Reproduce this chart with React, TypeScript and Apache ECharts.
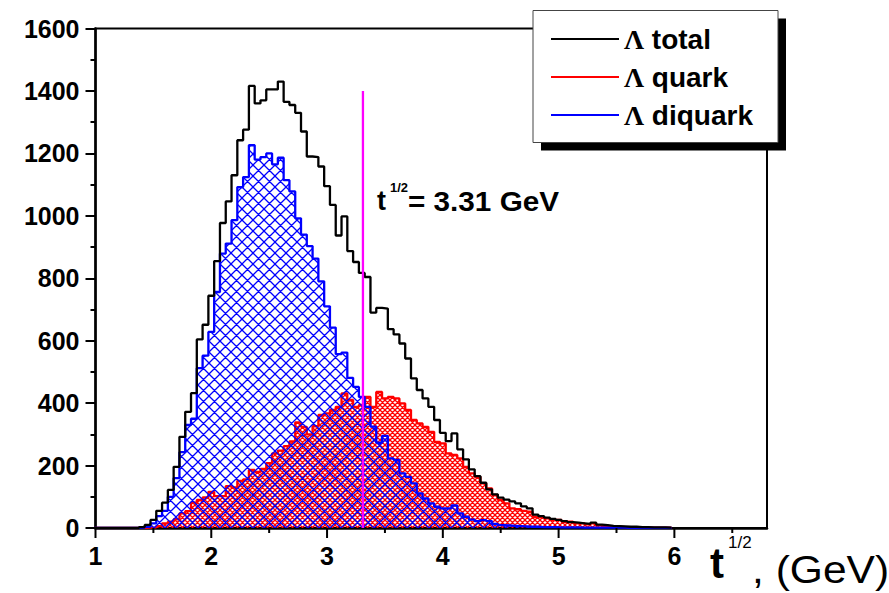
import React, { useEffect, useRef } from 'react';
import * as echarts from 'echarts';

// Histogram binning (bins centred on multiples of 0.05 GeV)
const BIN_WIDTH = 0.05;
const FIRST_BIN_CENTER = 1.0;

// Bin contents, bins centred at 1.00, 1.05, ... 5.95
const totalCounts = [
  0, 0, 0, 0, 0, 0, 0, 0,
  3, 10, 26, 55, 81, 122, 196, 292, 372, 432,
  604, 651, 744, 855, 977, 1046, 1130, 1242, 1276, 1416,
  1360, 1370, 1405, 1405, 1430, 1365, 1355, 1330, 1270, 1190,
  1188, 1158, 1095, 1035, 937, 998, 887, 852, 817, 804,
  690, 705, 703, 637, 620, 591, 543, 479, 442, 415,
  388, 346, 305, 278, 303, 252, 220, 188, 166, 145,
  124, 108, 97, 91, 85, 79, 69, 63, 43, 38,
  33, 29, 26, 22, 19, 17, 15, 13, 17, 11,
  9, 7, 6, 5, 4, 4, 3, 3, 2, 2,
  2, 1,
];
const quarkCounts = [
  0, 0, 0, 0, 0, 0, 0, 0,
  0, 1, 2, 6, 15, 20, 28, 47, 54, 81,
  90, 98, 116, 102, 102, 134, 130, 151, 156, 186,
  180, 189, 208, 239, 248, 262, 277, 338, 324, 300,
  326, 362, 367, 378, 388, 431, 410, 388, 394, 420,
  388, 436, 415, 420, 415, 399, 378, 346, 335, 324,
  308, 276, 271, 239, 234, 223, 196, 175, 164, 143,
  127, 106, 90, 79, 63, 60, 55, 52, 36, 34,
  31, 26, 26, 20, 20, 15, 15, 12, 15, 9,
  6, 5, 4, 3, 3, 2, 2, 2, 1, 1,
  1, 1,
];
const diquarkCounts = [
  0, 0, 0, 0, 0, 0, 0, 0,
  1, 4, 15, 38, 55, 100, 160, 243, 330, 350,
  512, 552, 628, 756, 879, 911, 986, 1092, 1124, 1226,
  1180, 1188, 1200, 1165, 1186, 1114, 1078, 992, 940, 903,
  863, 790, 710, 642, 557, 562, 481, 452, 420, 388,
  325, 273, 295, 223, 218, 175, 164, 143, 111, 95,
  79, 68, 63, 63, 72, 47, 36, 27, 22, 25,
  22, 13, 9, 8, 7, 6, 5, 4, 4, 3,
  3, 3, 2, 2, 2, 2, 1, 1, 1, 1,
  1, 1, 1, 1, 0, 0, 0, 0, 0, 0,
  0, 0,
];

const seriesNames = ['Λ total', 'Λ quark', 'Λ diquark'];
const xMajorTicks = [1, 2, 3, 4, 5, 6];
const xMinorTicks = [1.5, 2.5, 3.5, 4.5, 5.5, 6.5];
const markerT = 3.31;
const markerTop = 1400;

function stepData(counts: number[]) {
  const start = FIRST_BIN_CENTER - BIN_WIDTH / 2;
  const pts = counts.map((c, i) => [+(start + i * BIN_WIDTH).toFixed(4), c]);
  pts.push([+(start + counts.length * BIN_WIDTH).toFixed(4), 0]);
  return pts;
}

function hatch(color: string, size: number, lw: number) {
  const c = document.createElement('canvas');
  c.width = size;
  c.height = size;
  const ctx = c.getContext('2d')!;
  ctx.strokeStyle = color;
  ctx.lineWidth = lw;
  ctx.beginPath();
  for (const o of [-size, 0, size]) {
    ctx.moveTo(o, 0);
    ctx.lineTo(o + size, size);
    ctx.moveTo(o, size);
    ctx.lineTo(o + size, 0);
  }
  ctx.stroke();
  return c;
}

function tickSeries(values: number[], len: number) {
  return {
    type: 'custom',
    silent: true,
    clip: false,
    z: 6,
    data: values.map((v) => [v, 0]),
    renderItem: (_p: any, api: any) => {
      const p = api.coord([api.value(0), 0]);
      return {
        type: 'line',
        shape: { x1: p[0], y1: p[1], x2: p[0], y2: p[1] + len },
        style: { stroke: '#000', lineWidth: 2 },
      };
    },
  };
}

export default function App() {
  const ref = useRef<HTMLDivElement>(null);
  useEffect(() => {
    if (!ref.current) return;
    const chart = echarts.init(ref.current, undefined, { renderer: 'svg' });
    const blueSize = 11;
    const redSize = 5;
    const blueHatch = hatch('#0000ff', blueSize, 1.3);
    const redHatch = hatch('#ff0000', redSize, 1.3);
    const font = 'Liberation Sans';
    chart.setOption({
      animation: false,
      backgroundColor: '#fff',
      textStyle: { fontFamily: font },
      grid: {
        left: 95.5,
        right: 122,
        top: 28.5,
        bottom: 65,
        show: true,
        borderColor: '#000',
        borderWidth: 2,
        backgroundColor: 'transparent',
      },
      legend: {
        data: seriesNames,
        orient: 'vertical',
        left: 551,
        top: 24,
        padding: 0,
        icon: 'rect',
        itemWidth: 68,
        itemHeight: 2,
        itemGap: 8,
        z: 20,
        selectedMode: false,
        textStyle: {
          fontSize: 28,
          fontWeight: 'bold',
          color: '#000',
          fontFamily: font,
          lineHeight: 30,
          rich: {
            l: { fontFamily: 'Liberation Serif', fontWeight: 'bold', fontSize: 28, color: '#000' },
          },
        },
        formatter: (name: string) => `{l|Λ} ${name.slice(2)}`,
      },
      xAxis: {
        type: 'value',
        min: 1,
        max: 6.8,
        interval: 1,
        axisLine: { show: true, onZero: false, lineStyle: { color: '#000', width: 2.5 } },
        axisTick: { show: false },
        splitLine: { show: false },
        axisLabel: {
          fontSize: 25,
          fontWeight: 'bold',
          color: '#000',
          fontFamily: font,
          margin: 15,
          showMaxLabel: false,
          formatter: (v: number) => String(v),
        },
      },
      yAxis: {
        type: 'value',
        min: 0,
        max: 1600,
        interval: 200,
        axisLine: { show: true, lineStyle: { color: '#000', width: 2.5 } },
        axisTick: { show: true, length: 10, lineStyle: { color: '#000', width: 2 } },
        minorTick: { show: true, splitNumber: 2, length: 5, lineStyle: { color: '#000', width: 2 } },
        splitLine: { show: false },
        minorSplitLine: { show: false },
        axisLabel: {
          fontSize: 25,
          fontWeight: 'bold',
          color: '#000',
          fontFamily: font,
          margin: 16,
          formatter: (v: number) => String(v),
        },
      },
      series: [
        {
          name: seriesNames[1],
          type: 'line',
          step: 'end',
          symbol: 'none',
          data: stepData(quarkCounts),
          lineStyle: { color: '#ff0000', width: 2.3 },
          itemStyle: { color: '#ff0000' },
          areaStyle: {
            color: { image: redHatch, repeat: 'repeat', imageWidth: redSize, imageHeight: redSize },
            opacity: 1,
          },
          z: 2,
        },
        {
          name: seriesNames[2],
          type: 'line',
          step: 'end',
          symbol: 'none',
          data: stepData(diquarkCounts),
          lineStyle: { color: '#0000ff', width: 2.3 },
          itemStyle: { color: '#0000ff' },
          areaStyle: {
            color: { image: blueHatch, repeat: 'repeat', imageWidth: blueSize, imageHeight: blueSize },
            opacity: 1,
          },
          z: 3,
        },
        {
          name: seriesNames[0],
          type: 'line',
          step: 'end',
          symbol: 'none',
          data: stepData(totalCounts),
          lineStyle: { color: '#000000', width: 2.3 },
          itemStyle: { color: '#000000' },
          z: 4,
        },
        {
          type: 'line',
          symbol: 'none',
          silent: true,
          data: [
            [markerT, 0],
            [markerT, markerTop],
          ],
          lineStyle: { color: '#ff00ff', width: 2.3 },
          z: 5,
        },
        tickSeries(xMajorTicks, 10),
        tickSeries(xMinorTicks, 5),
      ],
      graphic: [
        { type: 'rect', z: 15, shape: { x: 541, y: 18.5, width: 245, height: 132 }, style: { fill: '#000' } },
        {
          type: 'rect',
          z: 16,
          shape: { x: 533, y: 10.5, width: 245, height: 132 },
          style: { fill: '#fff', stroke: '#444', lineWidth: 1 },
        },
        {
          type: 'text',
          z: 16,
          x: 377,
          y: 201,
          style: { text: 't', fontSize: 27, fontWeight: 'bold', fontFamily: font, fill: '#000', verticalAlign: 'middle' },
        },
        {
          type: 'text',
          z: 16,
          x: 390,
          y: 187,
          style: { text: '1/2', fontSize: 13, fontWeight: 'bold', fontFamily: font, fill: '#000', verticalAlign: 'middle' },
        },
        {
          type: 'text',
          z: 16,
          x: 408,
          y: 201,
          scaleX: 1.1,
          style: { text: '= 3.31 GeV', fontSize: 27, fontWeight: 'bold', fontFamily: font, fill: '#000', verticalAlign: 'middle' },
        },
        {
          type: 'text',
          z: 16,
          x: 710,
          y: 563,
          style: { text: 't', fontSize: 42, fontWeight: 'bold', fontFamily: font, fill: '#000', verticalAlign: 'middle' },
        },
        {
          type: 'text',
          z: 16,
          x: 728,
          y: 542,
          style: { text: '1/2', fontSize: 17, fontFamily: font, fill: '#000', verticalAlign: 'middle' },
        },
        {
          type: 'text',
          z: 16,
          x: 752,
          y: 570,
          scaleX: 1.12,
          style: { text: ', (GeV)', fontSize: 38, fontFamily: font, fill: '#000', verticalAlign: 'middle' },
        },
      ],
    });
    return () => chart.dispose();
  }, []);
  return (
    <div
      ref={ref}
      style={{ position: 'absolute', left: 0, top: 0, width: 889, height: 593, background: '#fff' }}
    />
  );
}
